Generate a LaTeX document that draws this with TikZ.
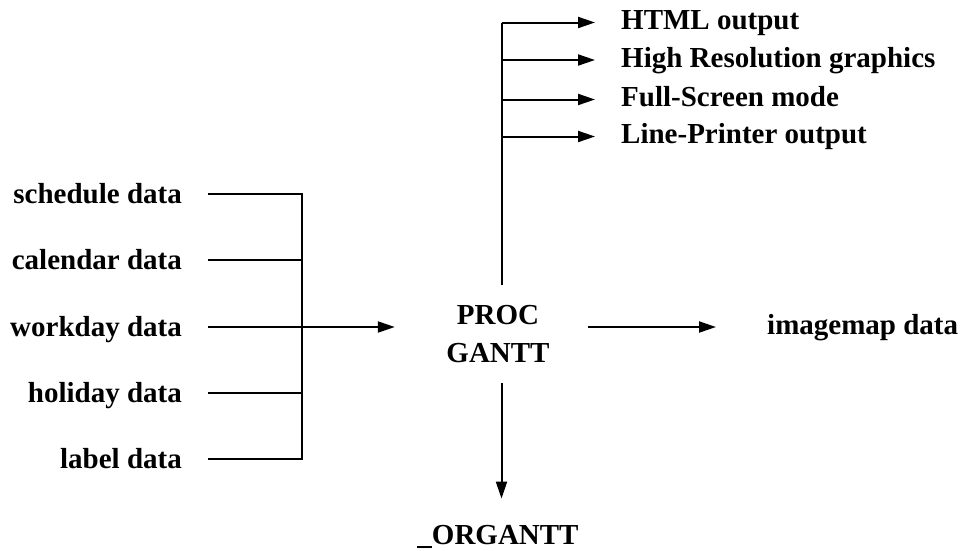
\documentclass[tikz,border=0pt]{standalone}
\usepackage{fontspec}
\setmainfont{Liberation Serif}
\usetikzlibrary{arrows.meta}
\begin{document}
\begin{tikzpicture}[x=1pt,y=-1pt,
  lbl/.style={font=\fontsize{29}{38}\selectfont\bfseries, inner ysep=0pt},
  wire/.style={line width=2pt, line join=miter},
  arr/.style={wire, -{Triangle[length=17pt,width=11pt]}}]
\useasboundingbox (0,0) rectangle (962,550);
% input labels (text ends at x=182, connector starts at x=208)
\node[lbl, inner xsep=26pt, anchor=base east] (s1) at (208,203) {schedule data};
\node[lbl, inner xsep=26pt, anchor=base east] (s2) at (208,269) {calendar data};
\node[lbl, inner xsep=26pt, anchor=base east] (s3) at (208,336) {workday data};
\node[lbl, inner xsep=26pt, anchor=base east] (s4) at (208,402) {holiday data};
\node[lbl, inner xsep=26pt, anchor=base east] (s5) at (208,468) {label data};
\coordinate (bus) at (302,327);
% central process
\node[lbl, align=center, minimum width=206pt, minimum height=97pt, inner sep=0pt] (proc) at (498,334) {PROC\\GANTT};
\coordinate (trunk) at (501.5,22.5);
% outputs
\node[lbl, inner xsep=26pt, anchor=base west] (o1) at (595,29.5) {HTML output};
\node[lbl, inner xsep=26pt, anchor=base west] (o2) at (595,67) {High Resolution graphics};
\node[lbl, inner xsep=26pt, anchor=base west] (o3) at (595,106.5) {Full-Screen mode};
\node[lbl, inner xsep=26pt, anchor=base west] (o4) at (595,143.5) {Line-Printer output};
\node[lbl, inner xsep=51pt, anchor=base west] (imap) at (716,334) {imagemap data};
\node[lbl, inner ysep=26pt, anchor=base] (org) at (498,544) {\_ORGANTT};
% bus connectors
\draw[wire] ([yshift=9pt]s1.base east) -| (bus);
\draw[wire] ([yshift=9pt]s5.base east) -| (bus);
\draw[wire] ([yshift=9pt]s2.base east) -- ([yshift=9pt]s2.base east -| bus);
\draw[wire] ([yshift=9pt]s4.base east) -- ([yshift=9pt]s4.base east -| bus);
\draw[arr] ([yshift=9pt]s3.base east) -- ([yshift=9pt]s3.base east -| proc.west);
% trunk to outputs
\draw[wire] (proc.north -| trunk) -- (trunk);
\draw[arr] (trunk) -- ([yshift=7pt]o1.base west);
\draw[arr] ([yshift=7pt]o2.base west -| trunk) -- ([yshift=7pt]o2.base west);
\draw[arr] ([yshift=7pt]o3.base west -| trunk) -- ([yshift=7pt]o3.base west);
\draw[arr] ([yshift=7pt]o4.base west -| trunk) -- ([yshift=7pt]o4.base west);
% other outputs
\draw[arr] ([shift={(-13pt,7pt)}]proc.east |- imap.base west) -- ([yshift=7pt]imap.base west);
\draw[arr] (proc.south -| trunk) -- (org.north -| trunk);
\end{tikzpicture}
\end{document}
